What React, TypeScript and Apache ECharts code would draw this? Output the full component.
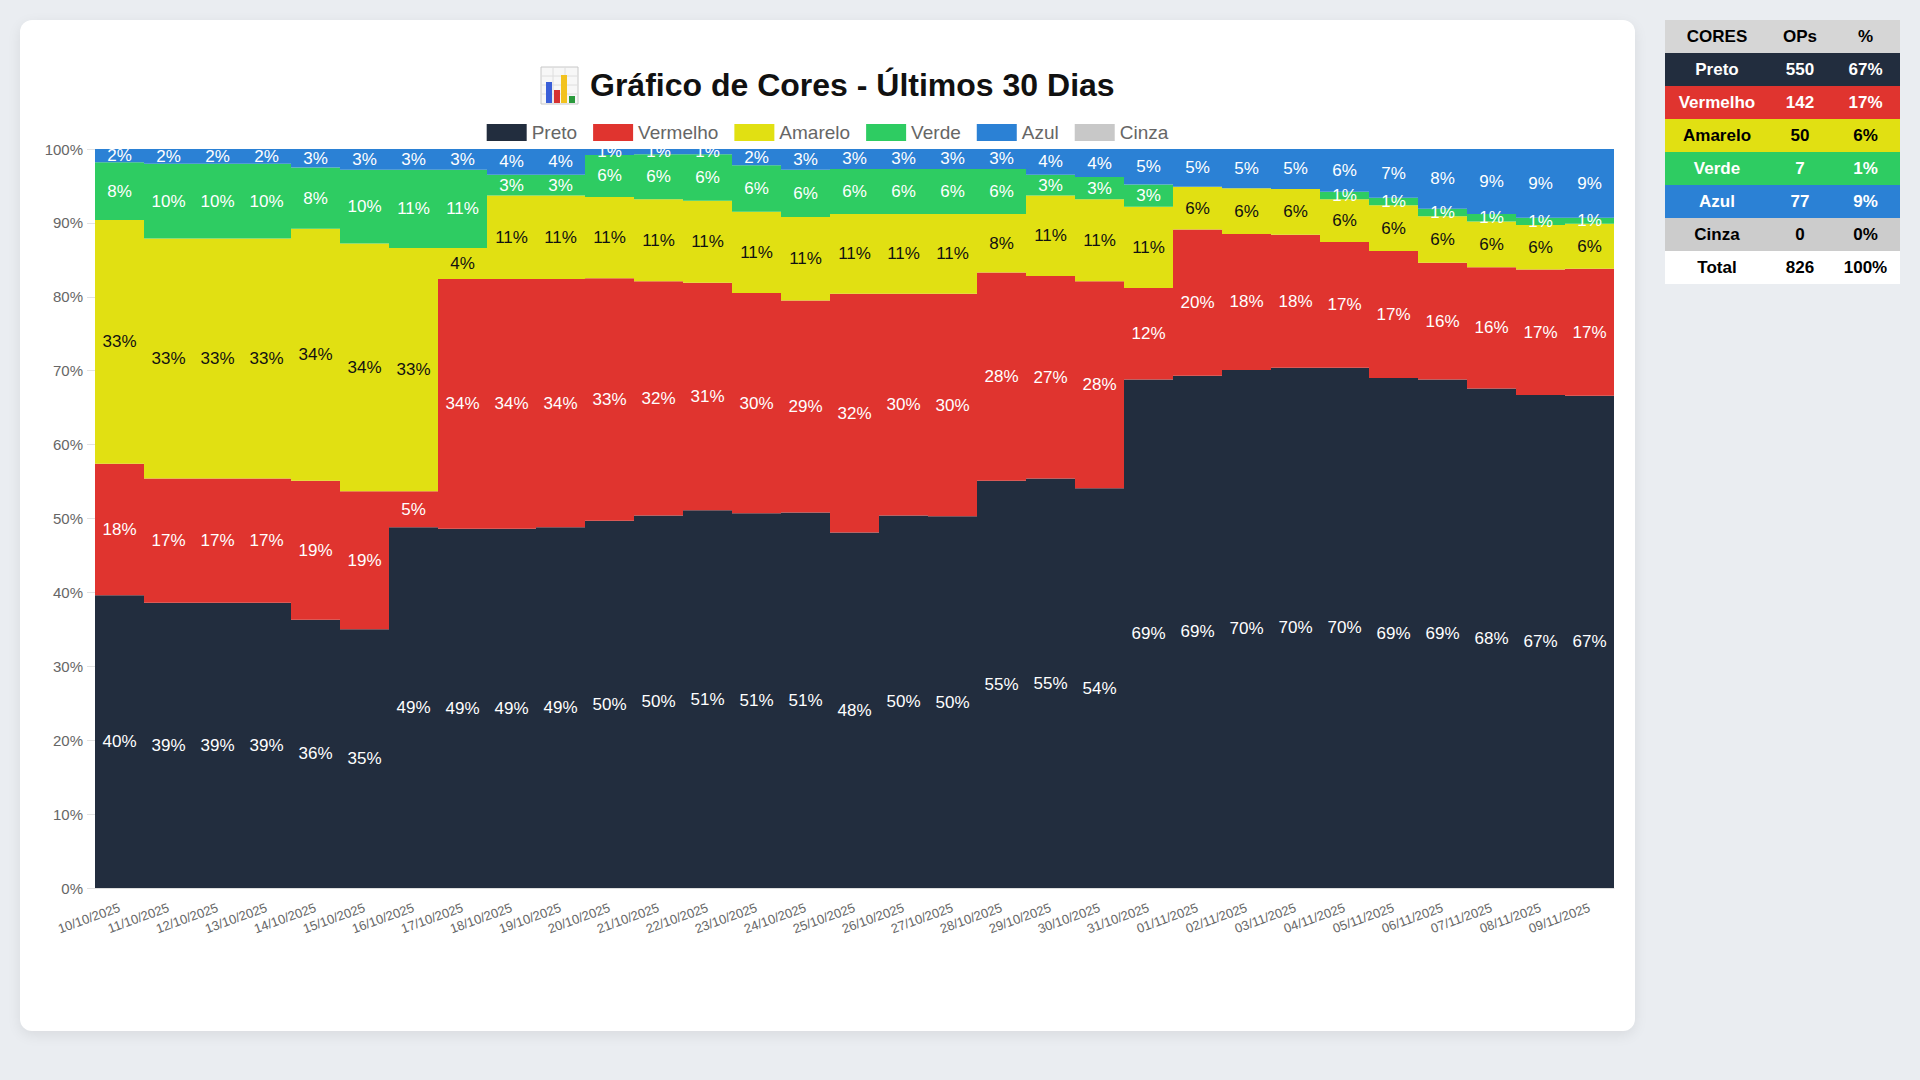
import React, { useEffect, useRef } from "react";
import * as echarts from "echarts";

const FONT = "'Liberation Sans', Arial, Helvetica, sans-serif";

const dates = [
  "10/10/2025", "11/10/2025", "12/10/2025", "13/10/2025", "14/10/2025", "15/10/2025",
  "16/10/2025", "17/10/2025", "18/10/2025", "19/10/2025", "20/10/2025", "21/10/2025",
  "22/10/2025", "23/10/2025", "24/10/2025", "25/10/2025", "26/10/2025", "27/10/2025",
  "28/10/2025", "29/10/2025", "30/10/2025", "31/10/2025", "01/11/2025", "02/11/2025",
  "03/11/2025", "04/11/2025", "05/11/2025", "06/11/2025", "07/11/2025", "08/11/2025",
  "09/11/2025",
];

const preto = [39.6, 38.6, 38.6, 38.6, 36.3, 35.0, 48.8, 48.6, 48.6, 48.8, 49.7, 50.4, 51.1, 50.7, 50.8, 48.1, 50.4, 50.3, 55.1, 55.4, 54.1, 68.8, 69.3, 70.1, 70.4, 70.4, 69.0, 68.8, 67.6, 66.7, 66.6];
const vermelho = [17.8, 16.8, 16.8, 16.8, 18.8, 18.7, 4.9, 33.8, 33.8, 33.6, 32.8, 31.7, 30.8, 29.8, 28.7, 32.3, 30.0, 30.1, 28.2, 27.4, 28.0, 12.4, 19.8, 18.4, 18.0, 17.0, 17.2, 15.8, 16.4, 17.0, 17.2];
const amarelo = [33.0, 32.5, 32.5, 32.5, 34.1, 33.5, 32.9, 4.2, 11.3, 11.3, 11.0, 11.1, 11.1, 11.0, 11.3, 10.8, 10.8, 10.8, 7.9, 10.9, 11.1, 11.0, 5.8, 6.2, 6.2, 5.8, 6.2, 6.3, 6.2, 6.0, 6.1];
const verde = [7.8, 10.1, 10.1, 10.1, 8.3, 10.0, 10.6, 10.6, 2.8, 2.8, 5.7, 6.1, 6.3, 6.3, 6.4, 6.1, 6.1, 6.1, 6.1, 2.8, 3.0, 3.0, 0, 0, 0, 1.0, 1.0, 1.0, 1.0, 1.0, 0.8];
const azul = [1.8, 2.0, 2.0, 2.0, 2.5, 2.8, 2.8, 2.8, 3.5, 3.5, 0.8, 0.7, 0.7, 2.2, 2.8, 2.7, 2.7, 2.7, 2.7, 3.5, 3.8, 4.8, 5.1, 5.3, 5.4, 5.8, 6.6, 8.1, 8.8, 9.3, 9.3];
const cinza = dates.map(() => 0);

const seriesNames = ["Preto", "Vermelho", "Amarelo", "Verde", "Azul", "Cinza"];
const seriesColors = ["#222d3e", "#e0342f", "#e1e012", "#2ecc62", "#2b81d5", "#c8c8c8"];
const labelColors = ["#ffffff", "#ffffff", "#111111", "#ffffff", "#ffffff", "#111111"];
const seriesData = [preto, vermelho, amarelo, verde, azul, cinza];

const yTicks = [0, 100, 10];

const tableNames = ["Preto", "Vermelho", "Amarelo", "Verde", "Azul", "Cinza"];
const tableOps = [550, 142, 50, 7, 77, 0];
const tableBg = ["#222d3e", "#e0342f", "#e1e012", "#2ecc62", "#2b81d5", "#cccccc"];
const tableFg = ["#ffffff", "#ffffff", "#000000", "#ffffff", "#ffffff", "#000000"];

const CARD_W = 1615;
const CARD_H = 1011;

function Chart() {
  const ref = useRef<HTMLDivElement>(null);
  useEffect(() => {
    if (!ref.current) return;
    const chart = echarts.init(ref.current, undefined, { renderer: "svg" });
    const gridL = 75, gridT = 129, gridW = 1519, gridH = 739;
    const option: any = {
      animation: false,
      textStyle: { fontFamily: FONT },
      legend: {
        top: 98,
        left: "center",
        icon: "rect",
        itemWidth: 40,
        itemHeight: 17,
        itemGap: 16,
        textStyle: { color: "#666", fontSize: 19, fontFamily: FONT },
        data: seriesNames,
      },
      grid: { left: gridL, top: gridT, width: gridW, height: gridH, containLabel: false },
      xAxis: {
        type: "category",
        data: dates,
        axisLine: { show: true, lineStyle: { color: "#dddddd" } },
        axisTick: { show: false },
        axisLabel: { interval: 0, rotate: 20, color: "#666", fontSize: 13, margin: 19, fontFamily: FONT },
        splitLine: { show: false },
      },
      yAxis: {
        type: "value",
        min: yTicks[0],
        max: yTicks[1],
        interval: yTicks[2],
        axisLine: { show: false },
        axisTick: { show: true, length: 8, lineStyle: { color: "#e2e2e2" } },
        axisLabel: { formatter: "{value}%", color: "#666", fontSize: 15, margin: 12, fontFamily: FONT },
        splitLine: { show: false },
      },
      series: seriesNames.map((name, i) => ({
        name,
        type: "bar",
        stack: "total",
        barCategoryGap: "0%",
        barWidth: "100%",
        data: seriesData[i],
        itemStyle: { color: seriesColors[i] },
        label: {
          show: true,
          position: "inside",
          color: labelColors[i],
          fontSize: 17,
          fontFamily: FONT,
          formatter: (p: any) => (p.value > 0 ? Math.round(p.value) + "%" : ""),
        },
      })),
      graphic: {
        elements: [
          {
            type: "rect",
            z: 100,
            shape: { x: gridL, y: 124, width: gridW, height: gridT - 124 },
            style: { fill: "#ffffff" },
            silent: true,
          },
          {
            type: "group",
            x: 521,
            y: 47,
            children: [
              { type: "rect", shape: { x: 0, y: 0, width: 37, height: 37 }, style: { fill: "#f7f7f7", stroke: "#c8c8c8", lineWidth: 1 } },
              { type: "line", shape: { x1: 0, y1: 9, x2: 37, y2: 9 }, style: { stroke: "#dedede", lineWidth: 1 } },
              { type: "line", shape: { x1: 0, y1: 18, x2: 37, y2: 18 }, style: { stroke: "#dedede", lineWidth: 1 } },
              { type: "line", shape: { x1: 0, y1: 27, x2: 37, y2: 27 }, style: { stroke: "#dedede", lineWidth: 1 } },
              { type: "line", shape: { x1: 12, y1: 0, x2: 12, y2: 37 }, style: { stroke: "#dedede", lineWidth: 1 } },
              { type: "line", shape: { x1: 24, y1: 0, x2: 24, y2: 37 }, style: { stroke: "#dedede", lineWidth: 1 } },
              { type: "rect", shape: { x: 5, y: 15, width: 6, height: 21 }, style: { fill: "#3a5fd8" } },
              { type: "rect", shape: { x: 13, y: 23, width: 6, height: 13 }, style: { fill: "#d63131" } },
              { type: "rect", shape: { x: 20, y: 8, width: 6, height: 28 }, style: { fill: "#f2c21f" } },
              { type: "rect", shape: { x: 28, y: 29, width: 6, height: 7 }, style: { fill: "#2a9a3c" } },
            ],
          },
          {
            type: "text",
            x: 570,
            y: 65,
            style: {
              text: "Gráfico de Cores - Últimos 30 Dias",
              font: "bold 32px " + FONT,
              fill: "#111111",
              textAlign: "left",
              textVerticalAlign: "middle",
              verticalAlign: "middle",
            },
          },
        ],
      },
    };
    chart.setOption(option);
    return () => chart.dispose();
  }, []);
  return <div ref={ref} style={{ width: CARD_W, height: CARD_H }} />;
}

function ColorTable() {
  const total = tableOps.reduce((a, b) => a + b, 0);
  const cell: React.CSSProperties = { textAlign: "center", padding: 0, height: 33 };
  return (
    <table
      style={{
        position: "absolute",
        left: 1665,
        top: 20,
        width: 235,
        borderCollapse: "collapse",
        fontFamily: FONT,
        fontSize: 17,
        fontWeight: "bold",
        tableLayout: "fixed",
      }}
    >
      <colgroup>
        <col style={{ width: 104 }} />
        <col style={{ width: 62 }} />
        <col style={{ width: 69 }} />
      </colgroup>
      <tbody>
        <tr style={{ background: "#d6d6d6", color: "#000" }}>
          <td style={cell}>CORES</td>
          <td style={cell}>OPs</td>
          <td style={cell}>%</td>
        </tr>
        {tableNames.map((n, i) => (
          <tr key={n} style={{ background: tableBg[i], color: tableFg[i] }}>
            <td style={cell}>{n}</td>
            <td style={cell}>{tableOps[i]}</td>
            <td style={cell}>{Math.round((tableOps[i] / total) * 100)}%</td>
          </tr>
        ))}
        <tr style={{ background: "#ffffff", color: "#000" }}>
          <td style={cell}>Total</td>
          <td style={cell}>{total}</td>
          <td style={cell}>100%</td>
        </tr>
      </tbody>
    </table>
  );
}

export default function App() {
  return (
    <div
      style={{
        position: "fixed",
        left: 0,
        top: 0,
        width: 1920,
        height: 1080,
        background: "#eaedf1",
        overflow: "hidden",
      }}
    >
      <div
        style={{
          position: "absolute",
          left: 20,
          top: 20,
          width: CARD_W,
          height: CARD_H,
          background: "#ffffff",
          borderRadius: 12,
          boxShadow: "0 4px 14px rgba(0,0,0,0.08)",
          overflow: "hidden",
        }}
      >
        <Chart />
      </div>
      <ColorTable />
    </div>
  );
}
